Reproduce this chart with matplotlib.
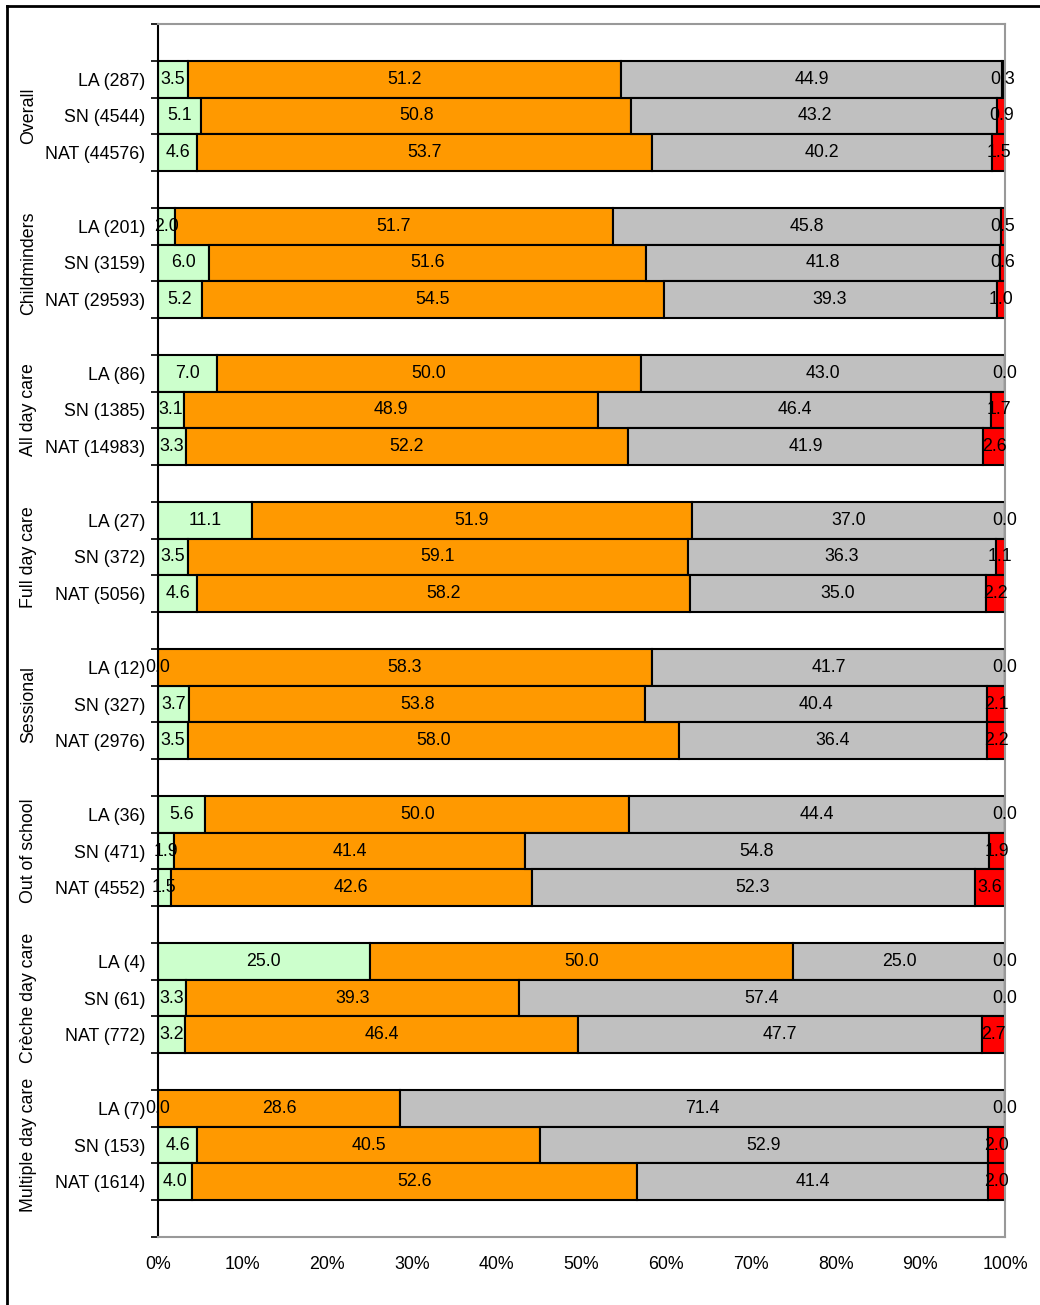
import numpy as np
import matplotlib.pyplot as plt
from matplotlib.lines import Line2D

plt.rcParams['font.family'] = ['Liberation Sans', 'DejaVu Sans']

groups = ['Overall', 'Childminders', 'All day care', 'Full day care',
          'Sessional', 'Out of school', 'Crèche day care', 'Multiple day care']
bar_labels = [
    ['LA (287)', 'SN (4544)', 'NAT (44576)'],
    ['LA (201)', 'SN (3159)', 'NAT (29593)'],
    ['LA (86)', 'SN (1385)', 'NAT (14983)'],
    ['LA (27)', 'SN (372)', 'NAT (5056)'],
    ['LA (12)', 'SN (327)', 'NAT (2976)'],
    ['LA (36)', 'SN (471)', 'NAT (4552)'],
    ['LA (4)', 'SN (61)', 'NAT (772)'],
    ['LA (7)', 'SN (153)', 'NAT (1614)'],
]
# outstanding, good, satisfactory, inadequate (per bar, top to bottom)
green = [3.5, 5.1, 4.6, 2.0, 6.0, 5.2, 7.0, 3.1, 3.3, 11.1, 3.5, 4.6,
         0.0, 3.7, 3.5, 5.6, 1.9, 1.5, 25.0, 3.3, 3.2, 0.0, 4.6, 4.0]
orange = [51.2, 50.8, 53.7, 51.7, 51.6, 54.5, 50.0, 48.9, 52.2, 51.9, 59.1, 58.2,
          58.3, 53.8, 58.0, 50.0, 41.4, 42.6, 50.0, 39.3, 46.4, 28.6, 40.5, 52.6]
grey = [44.9, 43.2, 40.2, 45.8, 41.8, 39.3, 43.0, 46.4, 41.9, 37.0, 36.3, 35.0,
        41.7, 40.4, 36.4, 44.4, 54.8, 52.3, 25.0, 57.4, 47.7, 71.4, 52.9, 41.4]
red = [0.3, 0.9, 1.5, 0.5, 0.6, 1.0, 0.0, 1.7, 2.6, 0.0, 1.1, 2.2,
       0.0, 2.1, 2.2, 0.0, 1.9, 3.6, 0.0, 0.0, 2.7, 0.0, 2.0, 2.0]

series = [green, orange, grey, red]
colors = ['#CCFFCC', '#FF9900', '#C0C0C0', '#FF0000']
fs = 12.8

fig = plt.figure(figsize=(10.4, 13.05), dpi=100)
ax = fig.add_axes([158/1040, 1-1237/1305, 847/1040, 1213/1305])

ypos = []
for g in range(len(groups)):
    for k in range(3):
        ypos.append(1 + 4*g + k + 0.5)
ypos = np.array(ypos)

left = np.zeros(len(ypos))
for vals, col in zip(series, colors):
    vals = np.array(vals)
    ax.barh(ypos, vals, left=left, height=1.0, color=col,
            edgecolor='black', linewidth=1.5, zorder=2)
    for y, l, v in zip(ypos, left, vals):
        ax.text(l + v/2, y, '%.1f' % v, ha='center', va='center',
                fontsize=fs, zorder=3)
    left += vals

ax.set_xlim(0, 100)
ax.set_ylim(33, 0)
ax.set_xticks(np.arange(0, 101, 10))
ax.set_xticklabels(['%d%%' % t for t in range(0, 101, 10)], fontsize=fs)
ax.tick_params(axis='x', length=0, pad=14)

ax.set_yticks(ypos)
ax.set_yticklabels([l for grp in bar_labels for l in grp], fontsize=fs)
ax.set_yticks(np.arange(0, 34), minor=True)
ax.tick_params(axis='y', which='major', length=0, pad=9)
ax.tick_params(axis='y', which='minor', length=5, width=1.2, direction='out')

for s in ['top', 'right', 'bottom']:
    ax.spines[s].set_color('#999999')
    ax.spines[s].set_linewidth(1.5)
ax.spines['left'].set_color('black')
ax.spines['left'].set_linewidth(1.5)

# group names, rotated, to the left of the labels
for g, name in enumerate(groups):
    yc = 1 + 4*g + 1.5
    ax.text(-15.3, yc, name, rotation=90, ha='center', va='center',
            fontsize=fs, clip_on=False)

# frame of the original picture (left and top edges)
fig.add_artist(Line2D([7/1040, 7/1040], [0, 1-6/1305], color='black',
                      linewidth=2, transform=fig.transFigure))
fig.add_artist(Line2D([7/1040, 1], [1-6/1305, 1-6/1305], color='black',
                      linewidth=2, transform=fig.transFigure))

plt.savefig('out.png', dpi=100)
